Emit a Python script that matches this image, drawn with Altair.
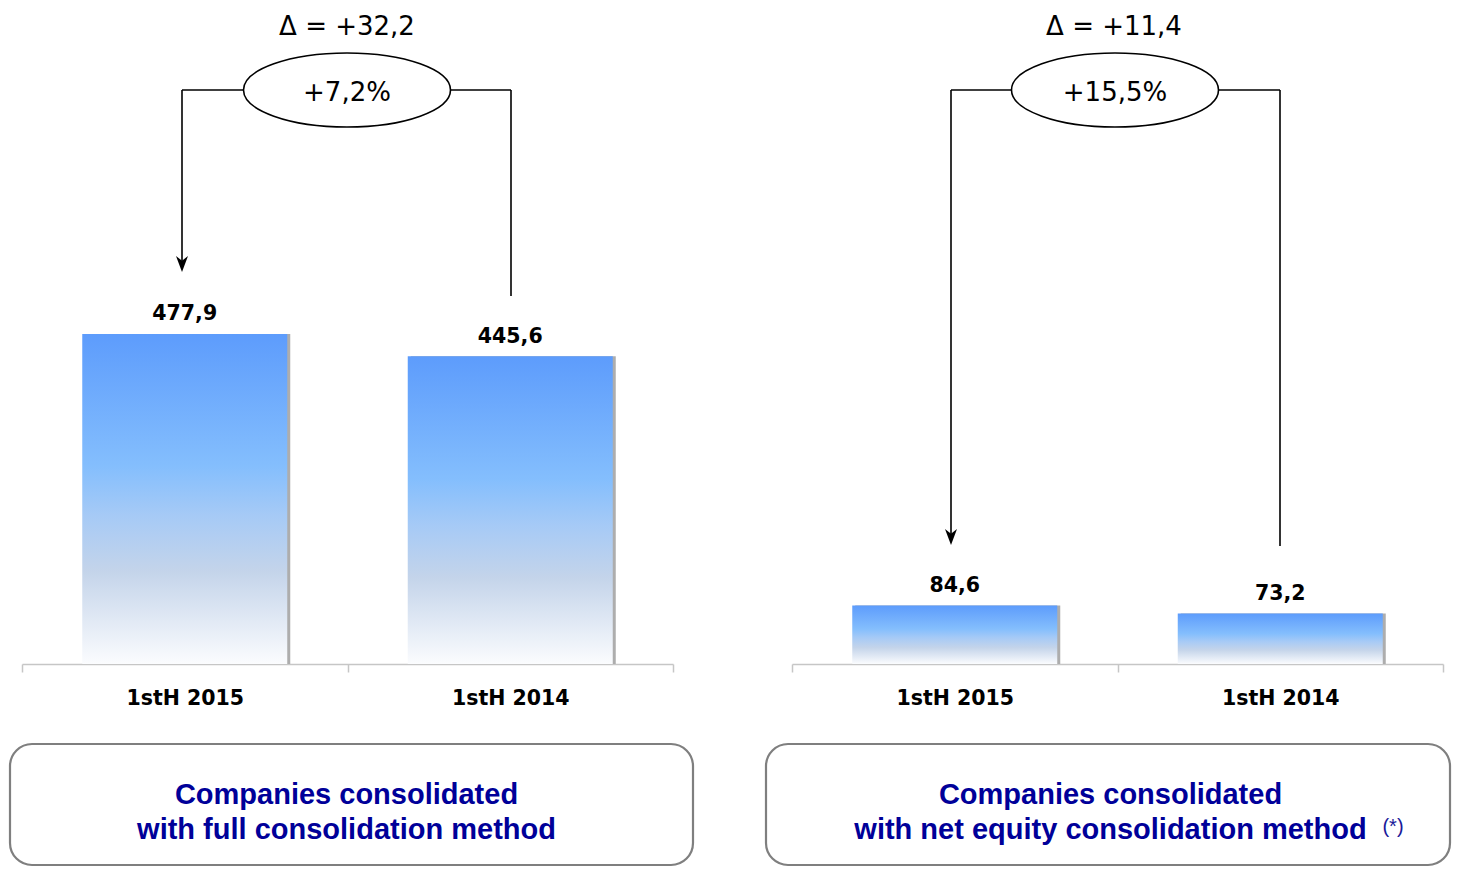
import altair as alt
import pandas as pd

# ---- data ----
periods = ["1stH 2015", "1stH 2014"]
full_values = [477.9, 445.6]
equity_values = [84.6, 73.2]
delta_labels = ["Δ = +32,2", "Δ = +11,4"]
pct_labels = ["+7,2%", "+15,5%"]
box_line1 = ["Companies consolidated", "Companies consolidated"]
box_line2 = ["with full consolidation method", "with net equity consolidation method"]
footnote = "(*)"

PLOT_W = 651
PLOT_H = 656
Y_MAX = 950

GRADIENT = {
    "gradient": "linear",
    "x1": 0, "x2": 0, "y1": 1, "y2": 0,
    "stops": [
        {"offset": 0.0, "color": "#fbfcfe"},
        {"offset": 0.28, "color": "#c4d4ea"},
        {"offset": 0.45, "color": "#a6caf6"},
        {"offset": 0.6, "color": "#84befd"},
        {"offset": 1.0, "color": "#5d9cfc"},
    ],
}

ELLIPSE_K = 0.3575
kk = round(0.5523 * ELLIPSE_K, 4)
ELLIPSE_PATH = (
    f"M -1 0 C -1 {-kk} -0.5523 {-ELLIPSE_K} 0 {-ELLIPSE_K} "
    f"C 0.5523 {-ELLIPSE_K} 1 {-kk} 1 0 "
    f"C 1 {kk} 0.5523 {ELLIPSE_K} 0 {ELLIPSE_K} "
    f"C -0.5523 {ELLIPSE_K} -1 {kk} -1 0 Z"
)
ARROW_PATH = "M 0 1 L -0.75 -1 L 0 -0.4 L 0.75 -1 Z"


def panel(values, idx, g):
    bars = pd.DataFrame({"period": periods, "value": values})
    note = pd.DataFrame({
        "delta": [delta_labels[idx]],
        "pct": [pct_labels[idx]],
        "l1": [box_line1[idx]],
        "l2": [box_line2[idx]],
    })

    x = alt.X(
        "period:N",
        sort=periods,
        scale=alt.Scale(paddingInner=0, paddingOuter=0),
        axis=alt.Axis(
            title=None, labelAngle=0, labelFont="DejaVu Sans", labelFontWeight="bold",
            labelFontSize=20.5, labelColor="black", labelPadding=16,
            domainColor="#c6c6c6", domainWidth=1.5, tickColor="#c6c6c6",
            tickWidth=1.5, tickSize=8, tickBand="extent",
        ),
    )
    y = alt.Y("value:Q", scale=alt.Scale(domain=[0, Y_MAX], nice=False), axis=None)

    base = alt.Chart(bars).encode(x=x, y=y)
    shadow = base.mark_bar(size=205, color="#adadad", xOffset=3)
    bar = base.mark_bar(size=205, color=GRADIENT)
    labels = base.transform_calculate(
        label="replace(format(datum.value, '.1f'), '.', ',')"
    ).mark_text(
        dy=-19.5, font="DejaVu Sans", fontWeight="bold", fontSize=20.5, color="black",
        baseline="middle",
    ).encode(text="label:N")

    ann = alt.Chart(note)

    def seg(x1, x2, y1, y2):
        return ann.mark_rule(color="black", strokeWidth=1.6).encode(
            x=alt.value(x1), x2=alt.value(x2), y=alt.value(y1), y2=alt.value(y2)
        )

    ey = 82
    conn = [
        seg(g["lx"], g["el"], ey, ey),
        seg(g["lx"], g["lx"], ey, g["ltip"] - 8),
        seg(g["er"], g["rx"], ey, ey),
        seg(g["rx"], g["rx"], ey, g["rend"]),
    ]
    arrow = ann.mark_point(
        shape=ARROW_PATH, size=256, filled=True, color="black", opacity=1
    ).encode(x=alt.value(g["lx"]), y=alt.value(g["ltip"] - 8))

    ellipse = ann.mark_point(
        shape=ELLIPSE_PATH, size=207 * 207, filled=True, color="white",
        stroke="black", strokeWidth=1.6, opacity=1,
    ).encode(x=alt.value(g["ex"]), y=alt.value(ey))

    pct = ann.mark_text(
        font="DejaVu Sans", fontSize=26, color="black", baseline="middle"
    ).encode(x=alt.value(g["ex"]), y=alt.value(ey + 3), text="pct:N")
    delta = ann.mark_text(
        font="DejaVu Sans", fontSize=26, color="black", baseline="middle"
    ).encode(x=alt.value(g["dx"]), y=alt.value(19), text="delta:N")

    box = ann.mark_rect(
        cornerRadius=22, fillOpacity=0, stroke="#7f7f7f", strokeWidth=2.2
    ).encode(
        x=alt.value(g["bx"]), x2=alt.value(g["bx2"]), y=alt.value(736), y2=alt.value(857)
    )
    t1 = ann.mark_text(
        font="Liberation Sans", fontWeight="bold", fontSize=29, color="#000099",
        baseline="middle",
    ).encode(x=alt.value(g["tx"]), y=alt.value(787), text="l1:N")
    t2 = ann.mark_text(
        font="Liberation Sans", fontWeight="bold", fontSize=29, color="#000099",
        baseline="middle",
    ).encode(x=alt.value(g["tx"]), y=alt.value(822), text="l2:N")

    layers = [box, shadow, bar, labels] + conn + [arrow, ellipse, pct, delta, t1, t2]
    if g.get("foot"):
        layers.append(
            ann.mark_text(
                font="Liberation Sans", fontSize=20, color="#1a1a9a", baseline="middle"
            ).encode(x=alt.value(601), y=alt.value(819), text=alt.value(footnote))
        )
    return alt.layer(*layers).properties(width=PLOT_W, height=PLOT_H)


left_geom = dict(dx=325, ex=325, lx=160, ltip=264, el=221, er=428, rx=489, rend=288,
                 bx=-12, bx2=671, tx=324.5)
right_geom = dict(dx=322, ex=323, lx=159, ltip=537, el=219.5, er=426.5, rx=488, rend=538,
                  bx=-26, bx2=658, tx=318.5, foot=True)

chart = alt.hconcat(
    panel(full_values, 0, left_geom),
    panel(equity_values, 1, right_geom),
    spacing=119,
    bounds="flush",
).properties(padding=0).configure_view(strokeWidth=0)

chart.save("out.html", embed_options={"renderer": "svg", "actions": False})
